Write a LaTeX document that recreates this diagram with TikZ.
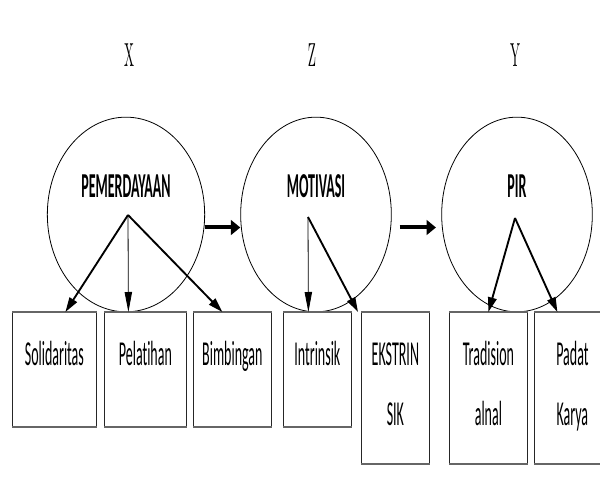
\documentclass[tikz,border=0pt]{standalone}
\usepackage{fontspec}
\setsansfont[Ligatures=NoCommon]{Carlito}
\usetikzlibrary{arrows.meta,shapes.geometric}

\newcommand{\tall}[1]{\scalebox{1}[2.5]{#1}}

\tikzset{
  varlabel/.style={font=\fontsize{10}{12}\selectfont, anchor=base},
  construct/.style={draw, ellipse, line width=0.6pt, minimum width=113pt, minimum height=146pt, inner sep=0pt},
  conlabel/.style={font=\sffamily\bfseries\fontsize{10.5}{12}\selectfont, anchor=base},
  indicator/.style={draw=black!85, line width=0.6pt, anchor=north west, minimum height=85.5pt, inner sep=0pt,
    append after command={\pgfextra{\let\boxnode\tikzlastnode}
      (\boxnode.north west) edge[draw=black!60, line width=1.6pt] (\boxnode.north east)
      (\boxnode.south west) edge[draw=black!60, line width=1.6pt] (\boxnode.south east)}},
  indlabel/.style={font=\sffamily\fontsize{10.5}{12}\selectfont, anchor=base},
  thinarrow/.style={-{Triangle[length=15pt,width=5.5pt]}, line width=0.6pt},
  diagarrow/.style={-{Triangle[length=11pt,width=6.5pt]}, line width=1.4pt},
  linkarrow/.style={-{Triangle[length=7pt,width=11pt]}, line width=3pt},
}

\begin{document}
\begin{tikzpicture}[x=0.75pt, y=-0.75pt]
    \path[fill=white, use as bounding box] (0,0) rectangle (600,481);

    % variables
    \node[varlabel] (labX) at (129,67) {\tall{X}};
    \node[varlabel] (labZ) at (312,67) {\tall{Z}};
    \node[varlabel] (labY) at (515,67) {\tall{Y}};

    % constructs
    \node[construct, minimum width=118pt] (cX) at (126,214.5) {};
    \node[construct] (cZ) at (316,214.5) {};
    \node[construct] (cY) at (517,214.5) {};
    \node[conlabel] (nX) at ([yshift=13pt]cX.center) {\tall{PEMERDAYAAN}};
    \node[conlabel] (nZ) at ([yshift=13pt]cZ.center) {\tall{MOTIVASI}};
    \node[conlabel] (nY) at ([yshift=13pt]cY.center) {\tall{PIR}};

    \coordinate (aX) at (128,215);
    \coordinate (aZ) at (308,217);
    \coordinate (aY) at (515,218);

    % indicators
    \node[indicator, minimum width=63pt] (sol) at (12,312) {};
    \node[indicator, minimum width=61.5pt] (pel) at (104,312) {};
    \node[indicator, minimum width=58.5pt] (bim) at (193,312) {};
    \node[indicator, minimum width=51pt] (int) at (283,312) {};
    \node[indicator, minimum width=51pt, minimum height=113.25pt] (eks) at (361,312) {};
    \node[indicator, minimum width=58.5pt, minimum height=113.25pt] (tra) at (449,312) {};
    \node[indicator, minimum width=57pt, minimum height=113.25pt] (pad) at (534,312) {};

    \node[indlabel] at ([yshift=-39.75pt]sol.north) {\tall{Solidaritas}};
    \node[indlabel] at ([yshift=-39.75pt]pel.north) {\tall{Pelatihan}};
    \node[indlabel] at ([yshift=-39.75pt]bim.north) {\tall{Bimbingan}};
    \node[indlabel] at ([yshift=-39.75pt]int.north) {\tall{Intrinsik}};
    \node[indlabel] at ([yshift=-39.75pt]eks.north) {\tall{EKSTRIN}};
    \node[indlabel] at ([yshift=-84.75pt]eks.north) {\tall{SIK}};
    \node[indlabel] at ([yshift=-39.75pt]tra.north) {\tall{Tradision}};
    \node[indlabel] at ([yshift=-84.75pt]tra.north) {\tall{alnal}};
    \node[indlabel] at ([yshift=-39.75pt]pad.north) {\tall{Padat}};
    \node[indlabel] at ([yshift=-84.75pt]pad.north) {\tall{Karya}};

    % arrows
    \draw[diagarrow] (aX) -- ([xshift=8.25pt]sol.north);
    \draw[thinarrow] (aX) -- ([xshift=-12.75pt]pel.north);
    \draw[diagarrow] (aX) -- ([xshift=-7.5pt]bim.north);
    \draw[thinarrow] (aZ) -- ([xshift=-6.75pt]int.north);
    \draw[diagarrow] (aZ) -- ([xshift=-2.25pt]eks.north west);
    \draw[diagarrow] (aY) -- (tra.north);
    \draw[diagarrow] (aY) -- ([xshift=-11.25pt]pad.north);

    \draw[linkarrow] ([yshift=-9.75pt]cX.east) -- ([yshift=-9.75pt]cZ.west);
    \draw[linkarrow, shorten <=6pt, shorten >=4pt] ([yshift=-9.75pt]cZ.east) -- ([yshift=-9.75pt]cY.west);
\end{tikzpicture}
\end{document}
